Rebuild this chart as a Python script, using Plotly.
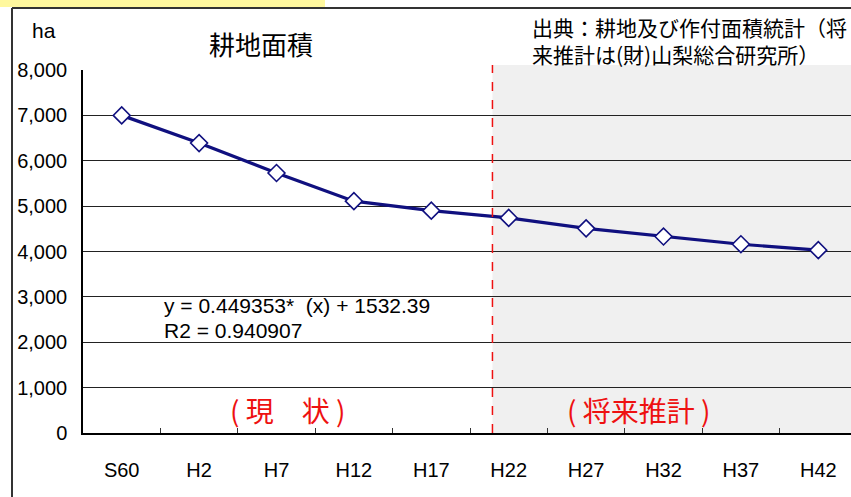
import plotly.graph_objects as go

# data
years = ['S60', 'H2', 'H7', 'H12', 'H17', 'H22', 'H27', 'H32', 'H37', 'H42']
area_ha = [7000, 6390, 5730, 5110, 4900, 4740, 4510, 4330, 4160, 4030]
y_ticks = [0, 1000, 2000, 3000, 4000, 5000, 6000, 7000, 8000]
split_pos = 4.79  # boundary between actual and projection

W, H = 851, 497
L, R, T, B = 83, 0, 70, 64
PW, PH = W - L - R, H - T - B


def px(x):
    return (x - L) / PW


def py(y):
    return (H - B - y) / PH


LATIN = 'Liberation Sans, Arial, sans-serif'
CJK = 'Noto Sans CJK JP, sans-serif'

fig = go.Figure()
fig.add_trace(go.Scatter(
    x=years, y=area_ha, mode='lines+markers',
    line=dict(color='#10107f', width=3.2),
    marker=dict(symbol='diamond', size=13, color='white',
                line=dict(color='#10107f', width=1.6)),
    showlegend=False, cliponaxis=False,
))

shapes = [
    # projection background
    dict(type='rect', xref='x', yref='paper', x0=split_pos, x1=10,
         y0=0, y1=py(65), fillcolor='#f0f0f0', line_width=0, layer='below'),
    # white box behind the regression text
    dict(type='rect', xref='paper', yref='paper', x0=px(160), x1=px(440),
         y0=py(352), y1=py(290), fillcolor='white', line_width=0, layer='between'),
    # split line
    dict(type='line', xref='x', yref='paper', x0=split_pos, x1=split_pos,
         y0=0, y1=py(65), line=dict(color='#ee1111', width=1.5, dash='dash')),
    # outer frame
    dict(type='line', xref='paper', yref='paper', x0=px(12), x1=px(12),
         y0=py(497), y1=py(8), line=dict(color='#333333', width=2)),
    dict(type='line', xref='paper', yref='paper', x0=px(12), x1=px(860),
         y0=py(8), y1=py(8), line=dict(color='#333333', width=2)),
    # yellow strip at the very top
    dict(type='rect', xref='paper', yref='paper', x0=px(0), x1=px(325),
         y0=py(7), y1=py(0), fillcolor='#fff89e', line_width=0),
]

annotations = [
    dict(text='ha', x=px(44), y=py(30), font=dict(family=LATIN, size=21)),
    dict(text='耕地面積', x=px(261), y=py(44), font=dict(family=CJK, size=26)),
    dict(text='出典：耕地及び作付面積統計（将<br>来推計は(財)山梨総合研究所）',
         x=px(530), y=py(40), xanchor='left', align='left',
         font=dict(family=CJK, size=21)),
    dict(text='y = 0.449353*  (x) + 1532.39', x=px(162), y=py(305),
         xanchor='left', font=dict(family=LATIN, size=21)),
    dict(text='R2 = 0.940907', x=px(162), y=py(330),
         xanchor='left', font=dict(family=LATIN, size=21)),
    dict(text='(&nbsp;現　状&nbsp;)', x=px(287), y=py(410),
         font=dict(family=CJK, size=28, color='#ee1111')),
    dict(text='(&nbsp;将来推計&nbsp;)', x=px(638), y=py(410),
         font=dict(family=CJK, size=28, color='#ee1111')),
]
for a in annotations:
    a.update(xref='paper', yref='paper', showarrow=False)
    a.setdefault('xanchor', 'center')
    a['yanchor'] = 'middle'
    a['font'].setdefault('color', 'black')

fig.update_layout(
    width=W, height=H,
    margin=dict(l=L, r=R, t=T, b=B),
    paper_bgcolor='white', plot_bgcolor='white',
    font=dict(family=LATIN, size=20, color='black'),
    shapes=shapes, annotations=annotations,
    xaxis=dict(
        type='category', categoryorder='array', categoryarray=years,
        range=[-0.5, -0.5 + PW / 77.4],
        tickson='boundaries', ticks='inside', ticklen=5, tickcolor='#333333',
        showline=True, linecolor='black', linewidth=1.5,
        showgrid=False, ticklabelstandoff=18,
        tickfont=dict(family=LATIN, size=20),
    ),
    yaxis=dict(
        range=[0, 8000], tickvals=y_ticks, tickformat=',',
        showgrid=True, gridcolor='#222222', gridwidth=1,
        showline=True, linecolor='black', linewidth=1.5,
        zeroline=False, ticks='', ticklabelstandoff=10,
        tickfont=dict(family=LATIN, size=20),
    ),
)

# drop the browser's default body margin so the figure sits at the page corner
fig.write_html('out.html', config={'displayModeBar': False},
               post_script="document.body.style.margin='0';")
